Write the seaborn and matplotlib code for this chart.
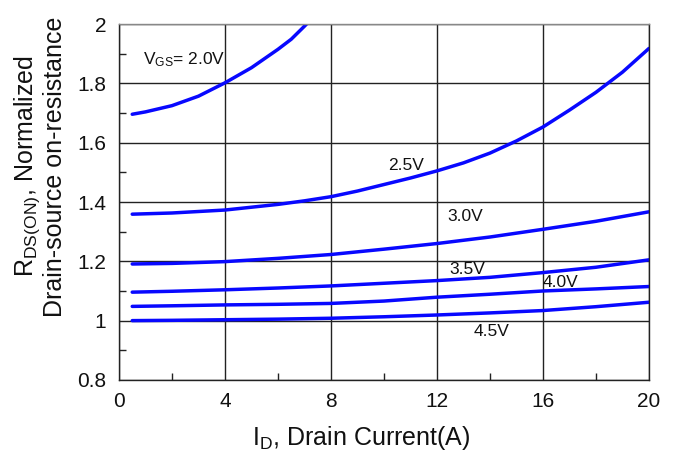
import matplotlib
matplotlib.use("Agg")
import matplotlib.pyplot as plt
from matplotlib.ticker import MultipleLocator, FormatStrFormatter
import pandas as pd
import seaborn as sns

# curve data
x_20 = [0.5, 1, 2, 3, 4, 5, 6, 6.5, 7, 7.5]
r_20 = [1.696, 1.704, 1.725, 1.757, 1.802, 1.853, 1.915, 1.949, 1.993, 2.04]

x_25 = [0.5, 2, 4, 6, 7, 8, 9, 10, 11, 12, 13, 14, 15, 16, 17, 18, 19, 20]
r_25 = [1.359, 1.363, 1.373, 1.392, 1.404, 1.418, 1.437, 1.459, 1.481, 1.505,
        1.532, 1.565, 1.606, 1.653, 1.710, 1.770, 1.838, 1.918]

x_id = [0.5, 2, 4, 6, 8, 10, 12, 14, 16, 18, 20]
r_30 = [1.191, 1.193, 1.199, 1.210, 1.223, 1.241, 1.260, 1.282, 1.308, 1.335, 1.367]
r_35 = [1.096, 1.099, 1.104, 1.110, 1.117, 1.126, 1.135, 1.146, 1.162, 1.180, 1.205]
r_40 = [1.048, 1.050, 1.053, 1.055, 1.058, 1.066, 1.079, 1.089, 1.100, 1.107, 1.115]
r_45 = [1.000, 1.001, 1.003, 1.005, 1.008, 1.013, 1.019, 1.026, 1.034, 1.047, 1.062]

vgs = ['2.0V', '2.5V', '3.0V', '3.5V', '4.0V', '4.5V']
label_txt = [r'V$_{\mathrm{GS}}$= 2.0V', '2.5V', '3.0V', '3.5V', '4.0V', '4.5V']
label_x = [0.92, 10.14, 12.4, 12.48, 16.0, 13.37]
label_y = [1.879, 1.522, 1.350, 1.171, 1.128, 0.963]

curves = [(x_20, r_20), (x_25, r_25), (x_id, r_30), (x_id, r_35), (x_id, r_40), (x_id, r_45)]
df = pd.concat([pd.DataFrame({'Id': xs, 'R': rs, 'Vgs': v})
                for v, (xs, rs) in zip(vgs, curves)], ignore_index=True)

sns.set_style('white')
plt.rcParams['font.family'] = ['Liberation Sans', 'DejaVu Sans']
plt.rcParams['mathtext.fontset'] = 'custom'
plt.rcParams['mathtext.rm'] = 'Liberation Sans'
plt.rcParams['mathtext.it'] = 'Liberation Sans:italic'

fig = plt.figure(figsize=(6.76, 4.55), dpi=100)
ax = fig.add_axes([0.176, 0.165, 0.784, 0.782])

sns.lineplot(data=df, x='Id', y='R', hue='Vgs', palette=['#0808ff'] * 6,
             linewidth=2.5, legend=False, ax=ax, sort=True, estimator=None)

for t, tx, ty in zip(label_txt, label_x, label_y):
    ax.text(tx, ty, t, fontsize=12.5, ha='left', va='center', color='#111111')

ax.set_xlim(0, 20)
ax.set_ylim(0.8, 2.0)
ax.xaxis.set_major_locator(MultipleLocator(4))
ax.xaxis.set_minor_locator(MultipleLocator(2))
ax.yaxis.set_major_locator(MultipleLocator(0.2))
ax.yaxis.set_minor_locator(MultipleLocator(0.1))
ax.yaxis.set_major_formatter(FormatStrFormatter('%g'))
ax.xaxis.set_major_formatter(FormatStrFormatter('%g'))

ax.grid(True, which='major', color='#222222', linewidth=1.0)
ax.tick_params(which='major', length=0, labelsize=15, pad=9, colors='#111111')
ax.tick_params(which='minor', direction='in', length=5, width=1, color='#222222',
               bottom=True, left=True)

for side in ['left', 'bottom', 'right']:
    ax.spines[side].set_color('#222222')
    ax.spines[side].set_linewidth(1.0)
ax.spines['top'].set_color('#888888')
ax.spines['top'].set_linewidth(1.0)

ax.set_xlabel(r'I$_{\mathrm{D}}$, Drain Current(A)', fontsize=18, color='#111111')
ax.xaxis.set_label_coords(0.457, -0.125)
ax.set_ylabel('R$_{\\mathrm{DS(ON)}}$, Normalized\nDrain-source on-resistance',
              fontsize=18, color='#111111', linespacing=1.05)
ax.yaxis.set_label_coords(-0.098, 0.6)

fig.savefig('out.png', dpi=100)
